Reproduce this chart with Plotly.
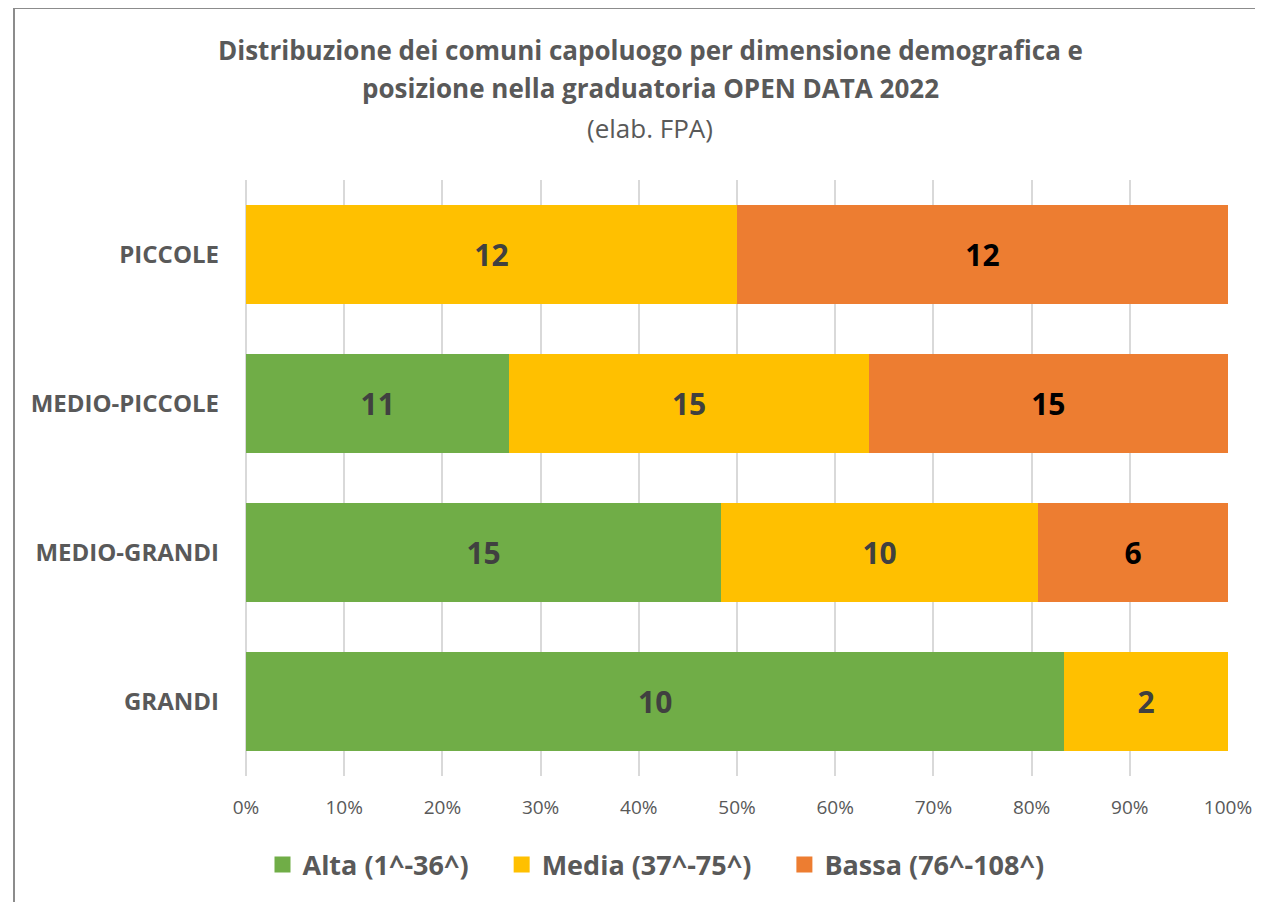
import plotly.graph_objects as go

# categorie dal basso verso l'alto
categorie = ['GRANDI', 'MEDIO-GRANDI', 'MEDIO-PICCOLE', 'PICCOLE']
alta = [10, 15, 11, 0]
media = [2, 10, 15, 12]
bassa = [0, 6, 15, 12]

serie = [
    ('Alta (1^-36^)', alta, '#70AD47', '#404040'),
    ('Media (37^-75^)', media, '#FFC000', '#404040'),
    ('Bassa (76^-108^)', bassa, '#ED7D31', '#000000'),
]

FONT = 'Open Sans, sans-serif'

fig = go.Figure()
for nome, valori, colore, col_testo in serie:
    fig.add_trace(go.Bar(
        name=nome, y=categorie, x=valori, orientation='h',
        marker_color=colore, marker_line_width=0, showlegend=False,
        text=[str(v) if v else '' for v in valori],
        textposition='inside', insidetextanchor='middle',
        textfont=dict(size=30, color=col_testo, family=FONT, weight='bold'),
        textangle=0,
    ))
# voci di legenda con quadrati più grandi
for nome, valori, colore, col_testo in serie:
    fig.add_trace(go.Scatter(
        name='<b>' + nome + '</b>' + '\u00a0' * 4, x=[None], y=[None], mode='markers',
        marker=dict(symbol='square', size=18, color=colore), showlegend=True,
    ))

# la pagina ha un margine di 8 px: coordinate del riferimento meno 8
OFF = 8
FW, FH = 1263 - OFF, 902 - OFF
L, R, T, B = 246 - OFF, 1263 - 1228, 180 - OFF, 902 - 776
H = FH - T - B
W = FW - L - R


def py(ypix):
    return (FH - B - (ypix - OFF)) / H


def px(xpix):
    return (xpix - OFF - L) / W


fig.update_layout(
    barmode='stack', barnorm='percent', bargap=0.335,
    width=FW, height=FH,
    margin=dict(l=L, r=R, t=T, b=B),
    paper_bgcolor='white', plot_bgcolor='white',
    font=dict(family=FONT, color='#595959'),
    showlegend=True,
    legend=dict(orientation='h', x=px(670), xanchor='center', y=py(865), yanchor='middle',
                font=dict(size=27, color='#595959', weight='bold'),
                traceorder='normal', itemwidth=30),
    uniformtext=dict(mode=False),
)

fig.update_xaxes(range=[0, 100], dtick=10, ticksuffix='%', showgrid=True,
                 gridcolor='#D9D9D9', gridwidth=2, zeroline=True, zerolinecolor='#D9D9D9',
                 zerolinewidth=2, tickfont=dict(size=19, color='#595959'),
                 ticklabelstandoff=18, fixedrange=True)
fig.update_yaxes(tickfont=dict(size=24, color='#595959', weight='bold'),
                 ticklabelstandoff=26, showgrid=False, fixedrange=True)

titoli = [
    ('Distribuzione dei comuni capoluogo per dimensione demografica e', 50, True, 26),
    ('posizione nella graduatoria OPEN DATA 2022', 88, True, 26),
    ('(elab. FPA)', 128, False, 26),
]
for testo, ypix, grassetto, dim in titoli:
    fig.add_annotation(text=testo, xref='paper', yref='paper', x=px(650), y=py(ypix),
                       xanchor='center', yanchor='middle', showarrow=False,
                       font=dict(size=dim, color='#595959', weight='bold' if grassetto else 'normal'))

# bordo del grafico
fig.add_shape(type='rect', xref='paper', yref='paper',
              x0=px(14), x1=px(1300), y0=py(950), y1=py(8),
              line=dict(color='#8C8C8C', width=2), layer='below')

fig.write_html('out.html')
